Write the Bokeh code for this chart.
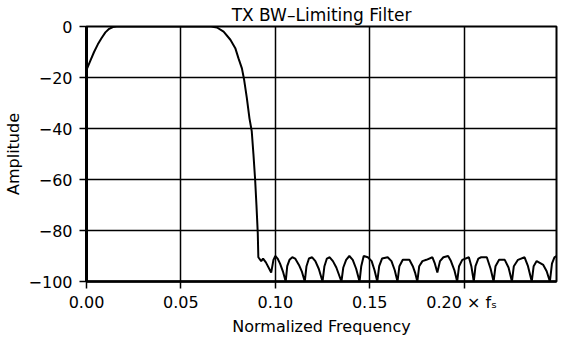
from bokeh.plotting import figure
from bokeh.models import FixedTicker, Range1d
from bokeh.embed import file_html
from bokeh.resources import INLINE

# ---- data ----
freq = [
    0.0000, 0.0020, 0.0040, 0.0060, 0.0080, 0.0100, 0.0120, 0.0140, 0.0160,
    0.0300, 0.0500, 0.0660, 0.0691, 0.0726, 0.0762, 0.0788, 0.0805, 0.0823,
    0.0835, 0.0849, 0.0863, 0.0875, 0.0884, 0.0893, 0.0900, 0.0907, 0.0910,
    0.0925, 0.0935, 0.0950, 0.0978, 0.0990, 0.1000, 0.1012, 0.1025, 0.1040,
    0.1055, 0.1063, 0.1075, 0.1090, 0.1105, 0.1125, 0.1140, 0.1156, 0.1165,
    0.1178, 0.1195, 0.1212, 0.1230, 0.1250, 0.1260, 0.1273, 0.1288, 0.1305,
    0.1323, 0.1350, 0.1360, 0.1375, 0.1392, 0.1410, 0.1428, 0.1446, 0.1455,
    0.1468, 0.1490, 0.1510, 0.1525, 0.1540, 0.1550, 0.1565, 0.1595, 0.1615,
    0.1632, 0.1647, 0.1657, 0.1675, 0.1710, 0.1728, 0.1740, 0.1752, 0.1762,
    0.1779, 0.1800, 0.1832, 0.1845, 0.1858, 0.1872, 0.1890, 0.1915, 0.1930,
    0.1948, 0.1963, 0.1973, 0.1990, 0.2025, 0.2038, 0.2051, 0.2060, 0.2075,
    0.2090, 0.2120, 0.2140, 0.2156, 0.2166, 0.2185, 0.2215, 0.2235, 0.2253,
    0.2263, 0.2285, 0.2320, 0.2338, 0.2358, 0.2368, 0.2384, 0.2419, 0.2437,
    0.2454, 0.2465, 0.2478, 0.2489,
]
amplitude = [
    -17.0, -13.5, -10.0, -7.0, -4.5, -2.3, -0.9, -0.2, 0.0,
    0.0, 0.0, 0.0, -0.4, -2.0, -5.2, -8.5, -12.5, -16.4,
    -21.0, -28.0, -36.0, -41.0, -50.0, -60.0, -70.0, -81.0, -90.5,
    -92.0, -91.0, -92.5, -96.5, -91.5, -90.0, -91.0, -93.0, -96.0,
    -100.0, -94.0, -91.5, -90.5, -91.0, -93.5, -96.0, -100.0, -94.0,
    -91.0, -90.5, -92.0, -95.0, -100.0, -94.0, -91.0, -90.5, -92.0,
    -94.5, -100.0, -94.5, -91.5, -90.0, -91.5, -95.0, -100.0, -94.0,
    -90.0, -90.5, -92.0, -95.5, -100.0, -94.0, -91.0, -90.5, -92.0,
    -95.5, -100.0, -94.0, -91.5, -91.5, -94.0, -96.5, -100.0, -94.0,
    -92.0, -91.5, -90.5, -93.0, -96.5, -92.0, -90.5, -90.0, -92.0,
    -95.5, -100.0, -94.0, -91.5, -90.5, -94.0, -100.0, -94.0, -91.0,
    -90.5, -90.5, -95.0, -100.0, -94.0, -91.5, -91.5, -94.5, -100.0,
    -94.0, -91.5, -90.5, -94.0, -100.0, -94.0, -92.0, -93.5, -96.0,
    -100.0, -93.0, -90.5, -90.0,
]

x_ticks = [0.00, 0.05, 0.10, 0.15, 0.20]
x_tick_labels = ["0.00", "0.05", "0.10", "0.15", "0.20  \u00d7 f\u209b"]
y_ticks = [0, -20, -40, -60, -80, -100]
y_tick_labels = ["0", "\u221220", "\u221240", "\u221260", "\u221280", "\u2212100"]

title_text = "TX BW\u2013Limiting Filter"
x_label = "Normalized Frequency"
y_label = "Amplitude"

FONT = "DejaVu Sans"

p = figure(frame_width=470, frame_height=255, output_backend="svg", toolbar_location=None,
           x_range=Range1d(0, 0.2489), y_range=Range1d(-100, 0),
           min_border_left=0, min_border_right=2, min_border_top=0, min_border_bottom=0)

p.title.text = title_text
p.title.align = "center"
p.title.text_font = FONT
p.title.text_font_size = "17px"
p.title.text_font_style = "normal"
p.title.text_color = "black"
p.title.offset = 0
p.title.standoff = 4

p.line(freq, amplitude, line_color="black", line_width=2)

p.outline_line_color = "black"
p.outline_line_width = 2
p.outline_line_alpha = 1

for ax in (p.xaxis[0], p.yaxis[0]):
    ax.major_label_text_font = FONT
    ax.major_label_text_font_size = "16px"
    ax.major_label_text_color = "black"
    ax.axis_label_text_font = FONT
    ax.axis_label_text_font_size = "16px"
    ax.axis_label_text_font_style = "normal"
    ax.axis_label_text_color = "black"
    ax.major_tick_line_color = "black"
    ax.major_tick_line_width = 1.5
    ax.major_tick_in = 0
    ax.minor_tick_line_color = None
    ax.axis_line_color = "black"

p.xaxis.ticker = FixedTicker(ticks=x_ticks)
p.xaxis.major_label_overrides = dict(zip(x_ticks, x_tick_labels))
p.xaxis.axis_label = x_label
p.xaxis.major_tick_out = 7
p.xaxis.major_label_standoff = 4
p.xaxis.axis_label_standoff = 2
p.xaxis.axis_line_width = 2.5

p.yaxis.ticker = FixedTicker(ticks=y_ticks)
p.yaxis.major_label_overrides = dict(zip(y_ticks, y_tick_labels))
p.yaxis.axis_label = y_label
p.yaxis.major_tick_out = 7
p.yaxis.major_label_standoff = 7
p.yaxis.axis_label_standoff = 3
p.yaxis.axis_line_width = 3

p.xgrid.ticker = FixedTicker(ticks=x_ticks)
p.ygrid.ticker = FixedTicker(ticks=y_ticks)
p.grid.grid_line_color = "black"
p.grid.grid_line_width = 1.5
p.grid.grid_line_alpha = 1

p.background_fill_color = "white"
p.border_fill_color = "white"

open("out.html", "w").write(file_html(p, INLINE))
